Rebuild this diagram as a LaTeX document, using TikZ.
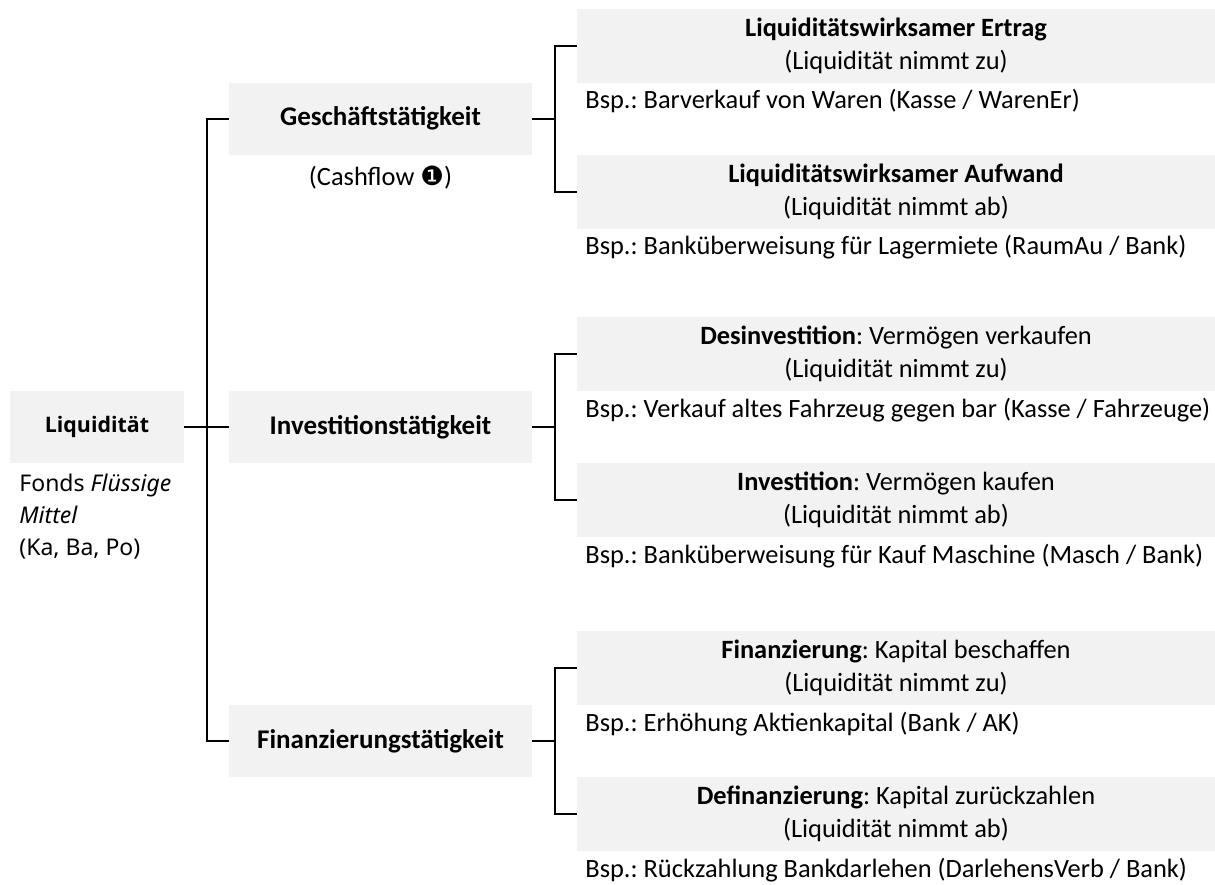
\documentclass[tikz,border=0pt]{standalone}
\usepackage{fontspec}
\setmainfont{Carlito}
\newfontfamily\fondsfont{Noto Sans}
\newfontfamily\rootfont{Open Sans}
\newfontfamily\dingfont{DejaVu Sans}
\definecolor{boxgray}{HTML}{F2F2F2}
\frenchspacing

\begin{document}
\begin{tikzpicture}[
  x=0.5pt, y=-0.5pt,
  every node/.style={font=\fontsize{13.2}{16.5}\selectfont},
  rootbox/.style={fill=boxgray,minimum width=87pt,minimum height=36pt,inner sep=0pt,
    font=\rootfont\bfseries\fontsize{10.7}{16}\selectfont},
  activity/.style={fill=boxgray,minimum width=151.5pt,minimum height=36pt,inner sep=0pt,
    font=\bfseries\fontsize{13.5}{16.5}\selectfont},
  flow/.style={fill=boxgray,minimum width=319pt,minimum height=37pt,inner sep=0pt,align=center},
  example/.style={anchor=west,inner sep=0pt},
  branch/.style={line width=1pt}
]
  \useasboundingbox (0,0) rectangle (1215,884);

  \node[rootbox] (liq) at (97,427) {Liquidität};
  \node[anchor=north west,inner sep=0pt,align=left,
    font=\fondsfont\fontsize{11.5}{16}\selectfont] (fonds) at (19,474)
    {Fonds \textit{Flüssige}\\\textit{Mittel}\\(Ka, Ba, Po)};

  \node[activity] (ges) at (380.5,118.5) {Geschäftstätigkeit};
  \node (cash) at (380.5,178) {(Cashflow {\dingfont\char"2776})};
  \node[activity] (inv) at (380.5,427) {Investitionstätigkeit};
  \node[activity] (fin) at (380.5,741) {Finanzierungstätigkeit};

  \node[flow] (ertrag) at (896,46) {\textbf{Liquiditätswirksamer Ertrag}\\(Liquidität nimmt zu)};
  \node[example] (bspertrag) at (585,101) {Bsp.: Barverkauf von Waren (Kasse / WarenEr)};
  \node[flow] (aufwand) at (896,192) {\textbf{Liquiditätswirksamer Aufwand}\\(Liquidität nimmt ab)};
  \node[example] (bspaufwand) at (585,247) {Bsp.: Banküberweisung für Lagermiete (RaumAu / Bank)};

  \node[flow] (desinv) at (896,354) {\textbf{Desinvestition}: Vermögen verkaufen\\(Liquidität nimmt zu)};
  \node[example] (bspdesinv) at (585,410) {Bsp.: Verkauf altes Fahrzeug gegen bar (Kasse / Fahrzeuge)};
  \node[flow] (invest) at (896,500) {\textbf{Investition}: Vermögen kaufen\\(Liquidität nimmt ab)};
  \node[example] (bspinvest) at (585,556) {Bsp.: Banküberweisung für Kauf Maschine (Masch / Bank)};

  \node[flow] (finanz) at (896,668) {\textbf{Finanzierung}: Kapital beschaffen\\(Liquidität nimmt zu)};
  \node[example] (bspfinanz) at (585,724) {Bsp.: Erhöhung Aktienkapital (Bank / AK)};
  \node[flow] (definanz) at (896,814) {\textbf{Definanzierung}: Kapital zurückzahlen\\(Liquidität nimmt ab)};
  \node[example] (bspdefinanz) at (585,870) {Bsp.: Rückzahlung Bankdarlehen (DarlehensVerb / Bank)};

  % forks
  \coordinate (trunk) at (207,427);
  \coordinate (gesfork) at (555,118.5);
  \coordinate (invfork) at (555,427);
  \coordinate (finfork) at (555,741);

  \draw[branch] (liq.east) -- (inv.west);
  \draw[branch] (ges.west) -| (trunk) |- (fin.west);

  \draw[branch] (ges.east) -- (gesfork);
  \draw[branch] (ertrag.west) -| (gesfork) |- (aufwand.west);
  \draw[branch] (inv.east) -- (invfork);
  \draw[branch] (desinv.west) -| (invfork) |- (invest.west);
  \draw[branch] (fin.east) -- (finfork);
  \draw[branch] (finanz.west) -| (finfork) |- (definanz.west);
\end{tikzpicture}
\end{document}
